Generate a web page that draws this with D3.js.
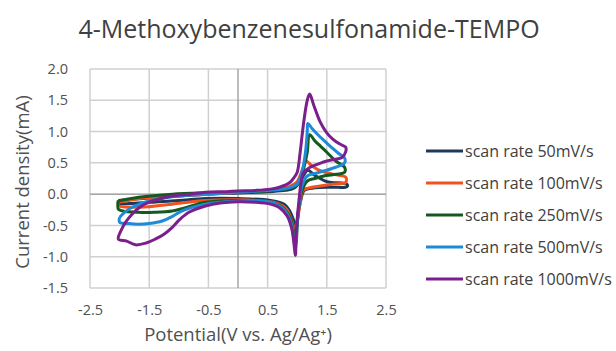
<!DOCTYPE html>
<html>
<head>
<meta charset="utf-8">
<script src="https://cdn.jsdelivr.net/npm/d3@7"></script>
<style>
  body { margin: 0; background: #fff; }
  text { font-family: "Open Sans", "Noto Sans", sans-serif; }
</style>
</head>
<body>
<div id="chart-area"></div>
<script>
// series names
var seriesNames = ["scan rate 50mV/s", "scan rate 100mV/s", "scan rate 250mV/s", "scan rate 500mV/s", "scan rate 1000mV/s"];
var seriesColors = ["#1b3a5a", "#f4511e", "#145a1e", "#1f8ad8", "#7a1f8c"];

// [potential V, current mA], traced loop: anodic sweep then return
var rate50 = [[-2.02,-0.1],[-1.5,-0.06],[-1.0,-0.03],[-0.5,0.0],[0.0,0.02],[0.5,0.04],[0.8,0.06],[0.95,0.1],[1.05,0.2],[1.12,0.32],[1.18,0.38],[1.3,0.3],[1.5,0.2],[1.84,0.16],
  [1.84,0.12],[1.6,0.11],[1.3,0.1],[1.12,0.06],[1.06,-0.1],[1.01,-0.35],[0.98,-0.55],[0.94,-0.42],[0.88,-0.28],[0.78,-0.16],[0.55,-0.1],[0.0,-0.07],[-0.55,-0.07],[-1.0,-0.1],[-1.5,-0.13],[-2.02,-0.14],[-2.02,-0.1]];
var rate100 = [[-2.02,-0.13],[-1.6,-0.06],[-1.4,-0.05],[-0.7,-0.01],[0.0,0.03],[0.5,0.06],[0.8,0.1],[0.95,0.16],[1.0,0.2],[1.05,0.3],[1.11,0.45],[1.15,0.53],[1.25,0.45],[1.4,0.37],[1.6,0.32],[1.82,0.27],
  [1.82,0.19],[1.6,0.16],[1.39,0.13],[1.2,0.1],[1.1,0.06],[1.05,-0.15],[1.0,-0.45],[0.97,-0.67],[0.94,-0.52],[0.88,-0.35],[0.8,-0.22],[0.6,-0.13],[0.3,-0.1],[0.0,-0.09],[-0.55,-0.1],[-1.11,-0.16],[-1.5,-0.2],[-1.8,-0.21],[-2.02,-0.18],[-2.02,-0.13]];
var rate250 = [[-2.02,-0.11],[-1.68,-0.05],[-1.11,0.0],[-0.5,0.02],[0.0,0.03],[0.5,0.05],[0.8,0.08],[0.95,0.12],[1.02,0.18],[1.08,0.32],[1.12,0.45],[1.17,0.67],[1.21,0.95],[1.3,0.85],[1.4,0.76],[1.5,0.67],[1.65,0.53],[1.8,0.43],
  [1.8,0.35],[1.6,0.31],[1.45,0.29],[1.3,0.25],[1.17,0.21],[1.08,0.05],[1.03,-0.2],[1.0,-0.5],[0.98,-0.78],[0.94,-0.6],[0.9,-0.42],[0.82,-0.28],[0.7,-0.18],[0.5,-0.12],[0.0,-0.1],[-0.55,-0.13],[-0.9,-0.22],[-1.11,-0.27],[-1.4,-0.29],[-1.68,-0.29],[-2.02,-0.24],[-2.02,-0.11]];
var rate500 = [[-2.0,-0.37],[-1.9,-0.28],[-1.79,-0.21],[-1.51,-0.11],[-1.11,-0.04],[-0.55,0.0],[0.0,0.03],[0.5,0.06],[0.77,0.08],[0.92,0.12],[1.0,0.16],[1.08,0.35],[1.14,0.67],[1.17,1.0],[1.18,1.13],[1.25,1.05],[1.35,0.95],[1.45,0.86],[1.6,0.73],[1.7,0.65],[1.8,0.58],
  [1.8,0.5],[1.65,0.43],[1.45,0.37],[1.3,0.33],[1.17,0.29],[1.08,0.13],[1.04,-0.1],[1.0,-0.45],[0.97,-0.87],[0.94,-0.7],[0.91,-0.5],[0.85,-0.35],[0.77,-0.24],[0.55,-0.13],[0.2,-0.1],[0.0,-0.11],[-0.3,-0.13],[-0.55,-0.16],[-0.95,-0.27],[-1.1,-0.35],[-1.28,-0.43],[-1.5,-0.47],[-1.68,-0.48],[-1.85,-0.47],[-2.0,-0.45],[-2.0,-0.37]];
var rate1000 = [[-2.0,-0.63],[-1.9,-0.45],[-1.79,-0.32],[-1.65,-0.2],[-1.51,-0.13],[-1.3,-0.07],[-1.11,-0.03],[-0.8,0.0],[-0.55,0.03],[-0.2,0.04],[0.0,0.05],[0.3,0.06],[0.55,0.08],[0.7,0.11],[0.88,0.19],[0.95,0.27],[1.0,0.35],[1.05,0.67],[1.11,1.15],[1.17,1.5],[1.21,1.6],[1.28,1.42],[1.39,1.15],[1.5,0.98],[1.6,0.88],[1.72,0.8],[1.82,0.75],
  [1.82,0.68],[1.76,0.59],[1.6,0.55],[1.5,0.53],[1.35,0.48],[1.22,0.43],[1.11,0.35],[1.06,0.15],[1.03,-0.1],[1.0,-0.4],[0.98,-0.7],[0.97,-0.98],[0.94,-0.75],[0.91,-0.56],[0.83,-0.35],[0.69,-0.21],[0.55,-0.16],[0.3,-0.13],[0.0,-0.12],[-0.3,-0.14],[-0.55,-0.19],[-0.83,-0.29],[-1.0,-0.42],[-1.11,-0.53],[-1.25,-0.64],[-1.4,-0.72],[-1.55,-0.78],[-1.73,-0.81],[-1.88,-0.75],[-2.02,-0.72],[-2.0,-0.63]];

var xTicks = [-2.5, -1.5, -0.5, 0.5, 1.5, 2.5];
var yTicks = [-1.5, -1.0, -0.5, 0.0, 0.5, 1.0, 1.5, 2.0];

var allSeries = [rate50, rate100, rate250, rate500, rate1000];

var W = 616, H = 351;
var margin = { left: 90, right: 230, top: 69, bottom: 63 };
var width = W - margin.left - margin.right,
    height = H - margin.top - margin.bottom;

var svg = d3.select("#chart-area").append("svg")
    .attr("width", W).attr("height", H);

var g = svg.append("g")
    .attr("transform", "translate(" + margin.left + "," + margin.top + ")");

var x = d3.scaleLinear().domain([-2.5, 2.5]).range([0, width]);
var y = d3.scaleLinear().domain([-1.5, 2.0]).range([height, 0]);

// grid
g.selectAll(".vgrid").data(xTicks).enter().append("line")
  .attr("x1", d => x(d)).attr("x2", d => x(d))
  .attr("y1", 0).attr("y2", height)
  .attr("stroke", "#d0d0d0").attr("stroke-width", 1.5);
g.selectAll(".hgrid").data(yTicks).enter().append("line")
  .attr("y1", d => y(d)).attr("y2", d => y(d))
  .attr("x1", 0).attr("x2", width)
  .attr("stroke", "#d0d0d0").attr("stroke-width", 1.5);

// zero axes
g.append("line").attr("x1", x(0)).attr("x2", x(0)).attr("y1", 0).attr("y2", height)
  .attr("stroke", "#a6a6a6").attr("stroke-width", 1.5);
g.append("line").attr("x1", 0).attr("x2", width).attr("y1", y(0)).attr("y2", y(0))
  .attr("stroke", "#a6a6a6").attr("stroke-width", 1.5);

// tick labels
var fmt = d => d3.format(".1f")(d).replace("−", "-");
var xAxis = d3.axisBottom(x).tickValues(xTicks).tickSize(0).tickPadding(17).tickFormat(fmt);
var yAxis = d3.axisLeft(y).tickValues(yTicks).tickSize(0).tickPadding(22).tickFormat(fmt);

var gx = g.append("g").attr("transform", "translate(0," + height + ")").call(xAxis);
var gy = g.append("g").call(yAxis);
[gx, gy].forEach(a => {
  a.select(".domain").remove();
  a.selectAll("text").attr("font-size", "14.5px").attr("fill", "#505050")
    .style("font-family", '"Open Sans", sans-serif');
});

// curves
var line = d3.line()
  .x(d => x(d[0])).y(d => y(d[1]))
  .curve(d3.curveCatmullRom.alpha(0.5));

g.selectAll(".cv").data(allSeries).enter().append("path")
  .attr("d", d => line(d))
  .attr("fill", "none")
  .attr("stroke", (d, i) => seriesColors[i])
  .attr("stroke-width", 3)
  .attr("stroke-linejoin", "round");

// title
svg.append("text")
  .attr("x", 309).attr("y", 38)
  .attr("text-anchor", "middle")
  .attr("font-size", "25px").attr("fill", "#404040")
  .text("4-Methoxybenzenesulfonamide-TEMPO");

// axis titles
svg.append("text")
  .attr("x", margin.left + width / 2).attr("y", 341)
  .attr("text-anchor", "middle")
  .attr("font-size", "18.5px").attr("fill", "#505050")
  .text("Potential(V vs. Ag/Ag⁺)");

svg.append("text")
  .attr("transform", "translate(29,182) rotate(-90)")
  .attr("text-anchor", "middle")
  .attr("font-size", "18.5px").attr("fill", "#505050")
  .text("Current density(mA)");

// legend
var legend = svg.selectAll(".leg").data(seriesNames).enter().append("g")
  .attr("transform", (d, i) => "translate(426," + (151 + i * 32) + ")");
legend.append("line")
  .attr("x1", 0).attr("x2", 37).attr("y1", 0).attr("y2", 0)
  .attr("stroke", (d, i) => seriesColors[i]).attr("stroke-width", 3);
legend.append("text")
  .attr("x", 39).attr("y", 6)
  .attr("font-size", "16px").attr("fill", "#404040")
  .text(d => d);
</script>
</body>
</html>
